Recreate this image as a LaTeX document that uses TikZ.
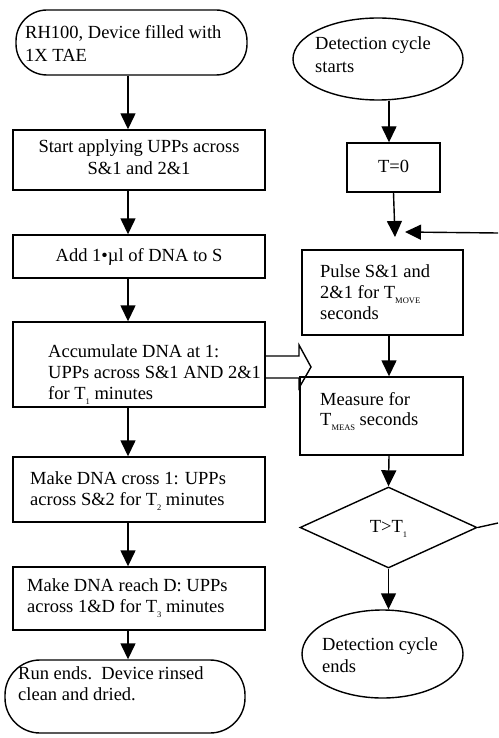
\documentclass[tikz,border=0pt]{standalone}
\usepackage{fontspec}
\setmainfont{Liberation Serif}
\usetikzlibrary{arrows.meta,shapes.geometric}
\newcommand\subsc[1]{\raisebox{-0.3em}{\fontsize{8.5}{8.5}\selectfont #1}}
\begin{document}
\begin{tikzpicture}[x=1pt,y=-1pt,
  box/.style={draw,line width=1.4pt,rectangle,inner sep=0pt},
  term/.style={draw,line width=1.4pt,rectangle,rounded corners=31pt,inner sep=0pt},
  oval/.style={draw,line width=1.4pt,ellipse,inner sep=0pt},
  dec/.style={draw,line width=1.4pt,diamond,inner sep=0pt},
  lbl/.style={inner sep=0pt,font=\fontsize{18.5}{21}\selectfont},
  flow/.style={line width=1.4pt,-{Triangle[length=16pt,width=15pt]}},
  plain/.style={line width=1.4pt}
]
\useasboundingbox (0,0) rectangle (498,738);

% left column shapes
\node[term,minimum width=231pt,minimum height=65pt] (start) at (131.5,42.5) {};
\node[box,minimum width=252pt,minimum height=60pt] (b2) at (139,160) {};
\node[box,minimum width=252pt,minimum height=43pt] (b3) at (139,256.5) {};
\node[box,minimum width=252pt,minimum height=85pt] (b4) at (139,364.5) {};
\node[box,minimum width=252pt,minimum height=65pt] (b5) at (139,489.5) {};
\node[box,minimum width=252pt,minimum height=63pt] (b6) at (139,598.5) {};
\node[term,rounded corners=35pt,minimum width=240pt,minimum height=73pt] (endt) at (125,696.5) {};

% right column shapes
\node[oval,minimum width=170pt,minimum height=82pt] (dstart) at (378,59) {};
\node[box,minimum width=93pt,minimum height=49pt] (t0) at (393.5,167.5) {};
\node[box,minimum width=161pt,minimum height=85pt] (pulse) at (382.5,292.5) {};
\node[box,minimum width=163pt,minimum height=78pt] (meas) at (381.5,416) {};
\node[dec,minimum width=177pt,minimum height=81pt] (dia) at (388.5,527.5) {};
\node[oval,minimum width=161pt,minimum height=88pt] (dend) at (382.5,654) {};

% texts left
\node[lbl,anchor=base west] (ts1) at (25,39) {RH100, Device filled with};
\node[lbl,anchor=base west] (ts2) at (25,62) {1X TAE};
\node[lbl,anchor=base] (t2a) at (139,153) {Start applying UPPs across};
\node[lbl,anchor=base] (t2b) at (139,175) {S\&1 and 2\&1};
\node[lbl,anchor=base] (t3a) at (139,261) {Add 1•µl of DNA to S};
\node[lbl,anchor=base west] (t4a) at (48,357) {Accumulate DNA at 1:};
\node[lbl,anchor=base west] (t4b) at (48,378) {UPPs across S\&1 AND 2\&1};
\node[lbl,anchor=base west] (t4c) at (48,399) {for T\subsc{1} minutes};
\node[lbl,anchor=base west] (t5a) at (30,484) {Make DNA cross 1: UPPs};
\node[lbl,anchor=base west] (t5b) at (30,505) {across S\&2 for T\subsc{2} minutes};
\node[lbl,anchor=base west] (t6a) at (27,591) {Make DNA reach D: UPPs};
\node[lbl,anchor=base west] (t6b) at (27,612) {across 1\&D for T\subsc{3} minutes};
\node[lbl,anchor=base west] (tea) at (18,679) {Run ends.\ \ Device rinsed};
\node[lbl,anchor=base west] (teb) at (18,700) {clean and dried.};

% texts right
\node[lbl,anchor=base west] (tda) at (315,50) {Detection cycle};
\node[lbl,anchor=base west] (tdb) at (315,73) {starts};
\node[lbl,anchor=base] (tt0) at (393.5,173) {T=0};
\node[lbl,anchor=base west] (tpa) at (320,277) {Pulse S\&1 and};
\node[lbl,anchor=base west] (tpb) at (320,298) {2\&1 for T\subsc{MOVE}};
\node[lbl,anchor=base west] (tpc) at (320,319) {seconds};
\node[lbl,anchor=base west] (tma) at (320,405) {Measure for};
\node[lbl,anchor=base west] (tmb) at (320,425) {T\subsc{MEAS} seconds};
\node[lbl,anchor=base] (tdi) at (388.5,532) {T>T\subsc{1}};
\node[lbl,anchor=base west] (tna) at (322,650) {Detection cycle};
\node[lbl,anchor=base west] (tnb) at (322,672) {ends};

% connectors left
\coordinate (lx) at (128,0);
\draw[flow] (start.south -| lx) -- (b2.north -| lx);
\draw[flow] (b2.south -| lx) -- (b3.north -| lx);
\draw[flow] (b3.south -| lx) -- (b4.north -| lx);
\draw[flow] (b4.south -| lx) -- (b5.north -| lx);
\draw[flow] (b5.south -| lx) -- (b6.north -| lx);
\draw[flow] (b6.south -| lx) -- (endt.north -| lx);

% connectors right
\coordinate (rx) at (389,0);
\coordinate (tx) at (393.5,0);
\coordinate (m1) at (395,237);
\coordinate (m2) at (405,232);
\coordinate (loopa) at (498,523);
\coordinate (loopb) at (498,233);
\draw[flow] (dstart.south -| rx) -- (t0.north -| rx);
\draw[flow] (t0.south -| tx) -- (m1);
\draw[flow] (loopb) -- (m2);
\draw[flow] (pulse.south -| rx) -- (meas.north -| rx);
\draw[flow] (meas.south -| rx) -- (dia.north);
\draw[flow] (dia.south) -- (dend.north -| dia.south);
\draw[plain] (dia.east) -- (loopa);

% hollow arrow from accumulate box to measure box
\draw[plain,line join=miter] (265,356) -- (299,356) -- (299,345) -- (311,367) -- (299,388) -- (299,378) -- (265,378);
\end{tikzpicture}
\end{document}
